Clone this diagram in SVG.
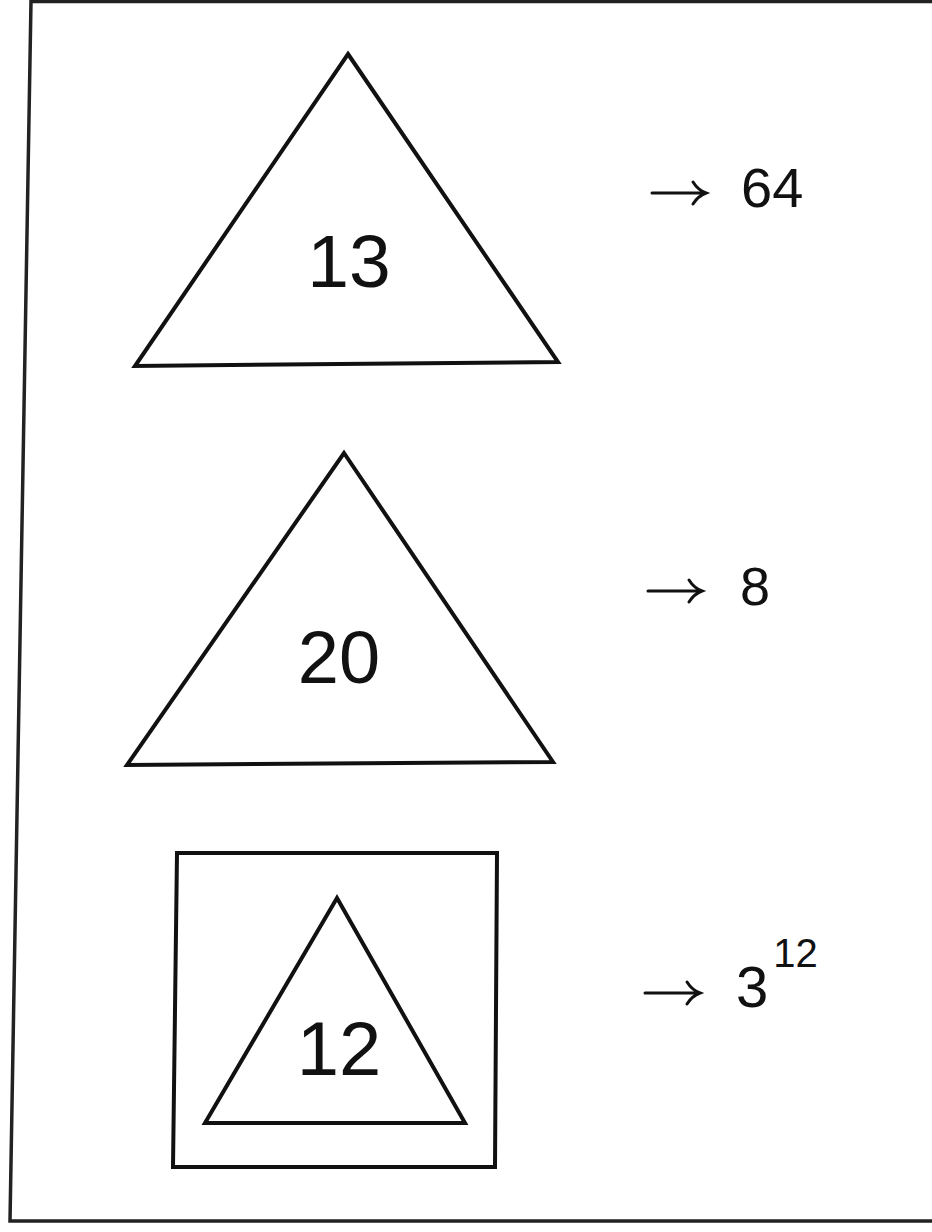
<svg xmlns="http://www.w3.org/2000/svg" width="932" height="1232" viewBox="0 0 932 1232">
<style>
.shape{fill:none;stroke:#111;stroke-width:4;stroke-linejoin:miter}
.frame{fill:none;stroke:#222;stroke-width:3.5}
.num{font-family:"Liberation Sans",Arial,sans-serif;fill:#111;text-anchor:middle}
.lbl{font-family:"Liberation Sans",Arial,sans-serif;fill:#111}
.arr{fill:none;stroke:#111;stroke-width:3;stroke-linecap:round}
</style>
<rect width="932" height="1232" fill="#fff"/>
<path class="frame" d="M932,1.5 L31,1.5 L10,1221 L932,1221"/>
<g id="node-13">
<polygon class="shape" points="348,54 558,362 135,366"/>
<text class="num" x="349" y="287" font-size="75">13</text>
</g>
<g id="node-20">
<polygon class="shape" points="344,453 553,762 127,765"/>
<text class="num" x="339" y="683" font-size="74">20</text>
</g>
<g id="node-12">
<polygon class="shape" points="177,853 497,853 495,1167 173,1167"/>
<polygon class="shape" points="337,898 465,1123 205,1123"/>
<text class="num" x="339" y="1075" font-size="76">12</text>
</g>
<g id="connectors">
<path class="arr" d="M652,193 L705,193 M693,182 Q698,190 706,193 Q698,196 693,204"/>
<path class="arr" d="M648,591 L701,591 M689,580 Q694,588 702,591 Q694,594 689,602"/>
<path class="arr" d="M645,993 L699,993 M687,982 Q692,990 700,993 Q692,996 687,1004"/>
</g>
<g id="label-64"><text class="lbl" x="741" y="207" font-size="56">64</text></g>
<g id="label-8"><text class="lbl" x="740" y="605" font-size="54">8</text></g>
<g id="label-3-12"><text class="lbl" x="736" y="1007" font-size="58">3<tspan font-size="40" dx="5" dy="-40">12</tspan></text></g>
</svg>
